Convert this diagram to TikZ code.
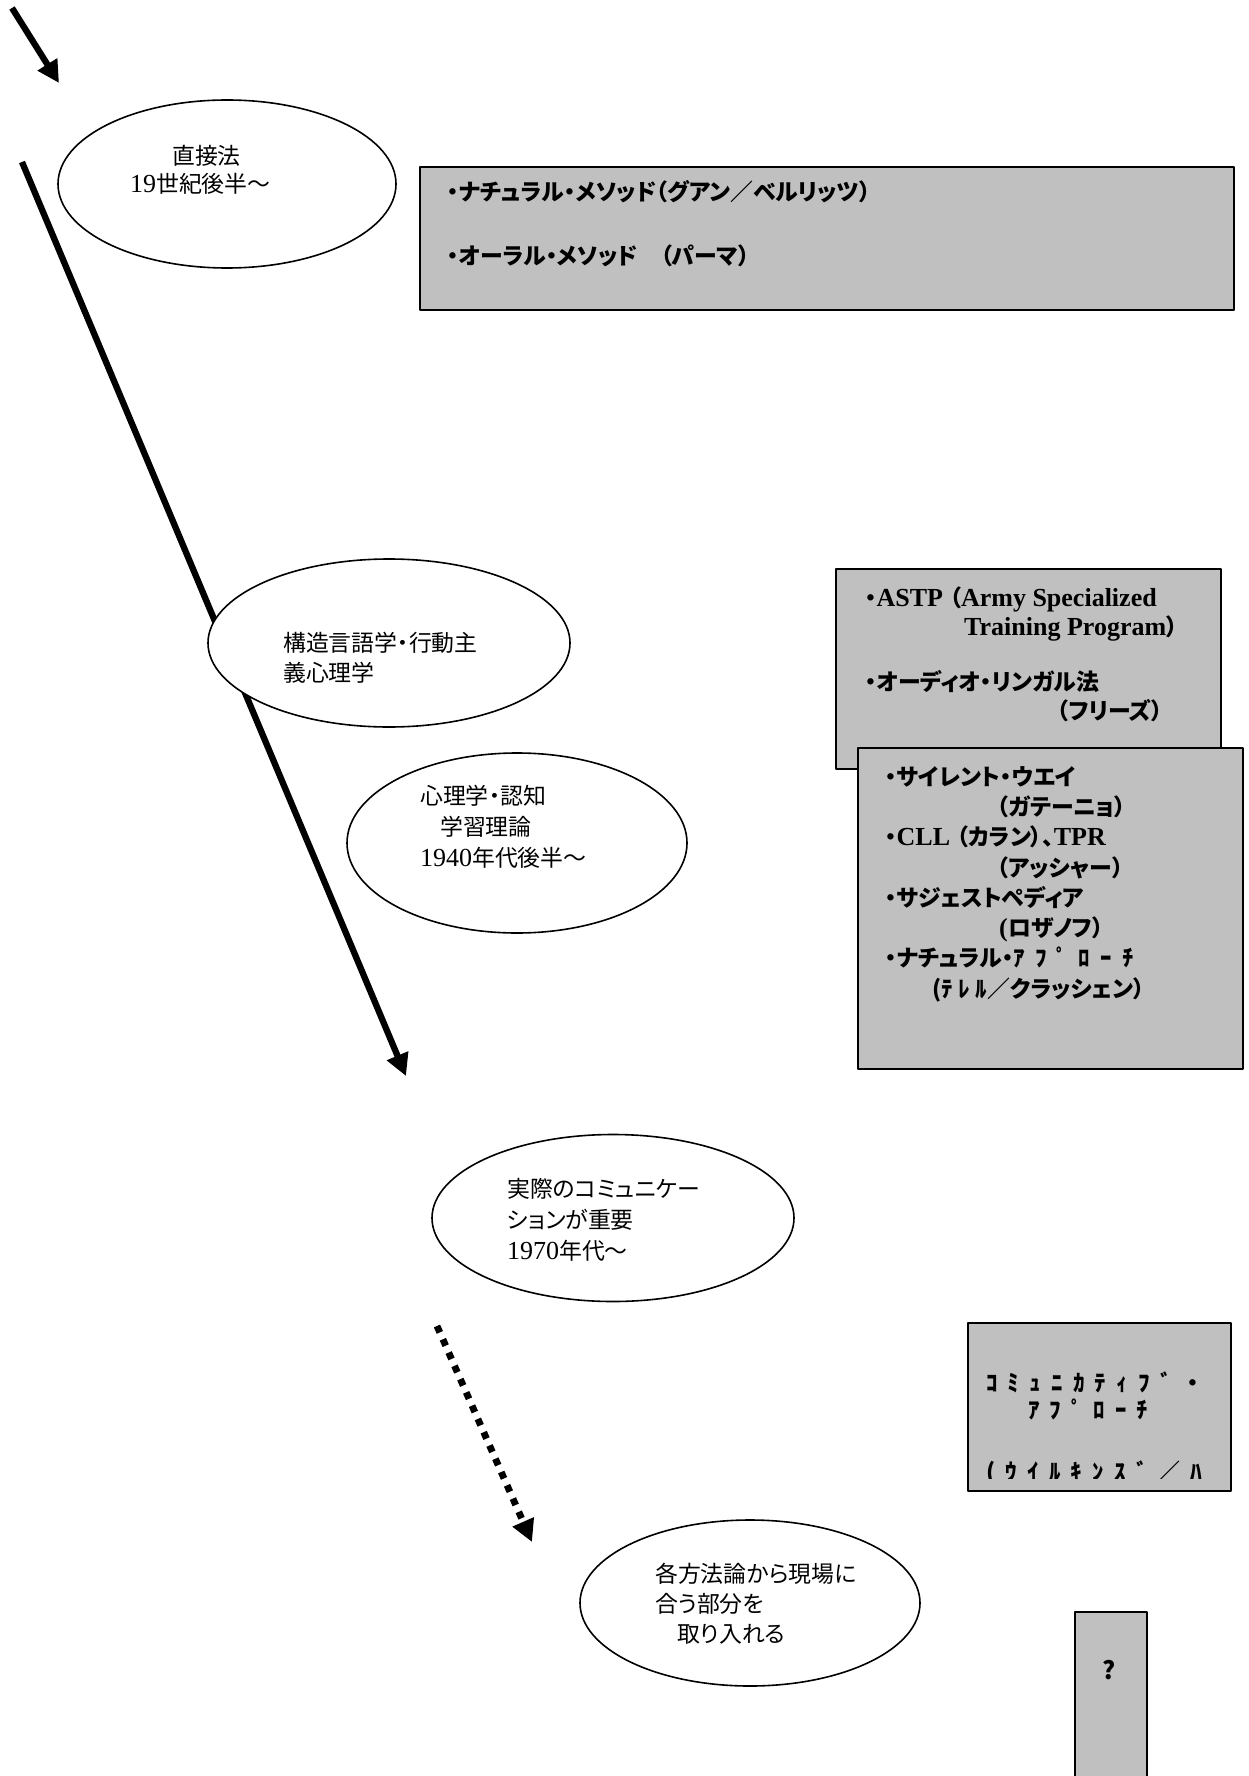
\documentclass[tikz,border=0pt]{standalone}
\usepackage{fontspec}
\setmainfont{Liberation Serif}
\newfontfamily\jp[Scale=0.88,RawFeature={+palt}]{Noto Sans CJK JP}
\newfontfamily\hk[Scale=0.88,LetterSpace=45]{Noto Sans CJK JP}
\newfontfamily\hkn[Scale=0.88,LetterSpace=25]{Noto Sans CJK JP}
\usepackage{tikz}
\usetikzlibrary{shapes}
\usetikzlibrary{arrows.meta}
\definecolor{boxgray}{RGB}{192,192,192}

\begin{document}
\begin{tikzpicture}[x=1pt,y=-1pt,join=round,
  oval/.style={draw,fill=white,ellipse,line width=1.6pt,inner sep=0pt},
  graybox/.style={draw,fill=boxgray,line width=1.8pt,anchor=north west,inner sep=0pt},
  txt/.style={inner sep=0pt,anchor=north west,align=left,font=\fontsize{26}{30}\selectfont},
  btxt/.style={txt,font=\fontsize{26}{30}\selectfont\bfseries},
  bigarrow/.style={line width=6.3pt,-{Triangle[length=22pt,width=22pt]}}]
\useasboundingbox (0,0) rectangle (1248,1776);

% time arrows
\coordinate (s0) at (12,8);
\coordinate (t0) at (59,83);
\draw[bigarrow] (s0) -- (t0);
\coordinate (s1) at (22,162);
\coordinate (t1) at (406,1076);
\draw[bigarrow] (s1) -- (t1);
\coordinate (s2) at (437,1326);
\coordinate (t2) at (532,1542);
\draw[bigarrow,line width=6.8pt,dash pattern=on 7pt off 7.5pt] (s2) -- (t2);

% periods
\node[oval,minimum width=338pt,minimum height=168pt] (direct) at (227,184) {};
\node[oval,minimum width=362pt,minimum height=168pt] (struct) at (389,643) {};
\node[oval,minimum width=340pt,minimum height=180pt] (cogn) at (517,843) {};
\node[oval,minimum width=362pt,minimum height=167pt] (commu) at (613,1218) {};
\node[oval,minimum width=340pt,minimum height=166pt] (eclec) at (750,1603) {};

\node[txt,font=\fontsize{26}{28}\selectfont] (directtxt) at (130,145)
  {\hspace*{42pt}{\jp 直接法}\\19{\jp 世紀後半～}};
\node[txt] (structtxt) at (283,632) {{\jp 構造言語学・行動主}\\{\jp 義心理学}};
\node[txt,font=\fontsize{26}{31}\selectfont] (cogntxt) at (420,785)
  {{\jp 心理学・認知}\\\hspace*{20pt}{\jp 学習理論}\\1940{\jp 年代後半～}};
\node[txt,font=\fontsize{26}{31}\selectfont] (commutxt) at (507,1178)
  {{\jp 実際のコミュニケー}\\{\jp ションが重要}\\1970{\jp 年代～}};
\node[txt] (eclectxt) at (655,1563)
  {{\jp 各方法論から現場に}\\{\jp 合う部分を}\\\hspace*{22pt}{\jp 取り入れる}};

% methods
\node[graybox,minimum width=814pt,minimum height=143pt] (natural) at (419,166) {};
\node[graybox,minimum width=385pt,minimum height=200pt] (audio) at (835,568) {};
\node[graybox,minimum width=385pt,minimum height=321pt] (human) at (857,747) {};
\node[graybox,minimum width=263pt,minimum height=168pt] (commbox) at (967,1322) {};
\node[graybox,minimum width=72pt,minimum height=200pt] (unknown) at (1074,1611) {};

\node[btxt,font=\fontsize{26}{32}\selectfont\bfseries] (naturaltxt) at (447,180)
  {{\jp ・ナチュラル・メソッド（グアン／ベルリッツ）}\\[32pt]{\jp ・オーラル・メソッド　（パーマ）}};
\node[btxt,font=\fontsize{26}{28.5}\selectfont\bfseries] (audiotxt) at (865,587)
  {{\jp ・}ASTP {\jp （}Army Specialized\\\hspace*{99pt}Training Program{\jp ）}\\[27pt]
   {\jp ・オーディオ・リンガル法}\\\hspace*{192pt}{\jp （フリーズ）}};
\node[btxt,font=\fontsize{26}{30.3}\selectfont\bfseries] (humantxt) at (885,766)
  {{\jp ・サイレント・ウエイ}\\\hspace*{112pt}{\jp （ガテーニョ）}\\
   {\jp ・}CLL {\jp （カラン）、}TPR\\\hspace*{112pt}{\jp （アッシャー）}\\
   {\jp ・サジェストペディア}\\\hspace*{114pt}({\jp ロザノフ）}\\
   {\jp ・ナチュラル・}{\hk ｱﾌﾟﾛｰﾁ}\\\hspace*{47pt}{\jp (}{\hkn ﾃﾚﾙ}{\jp ／クラッシェン）}};
\begin{scope}
\clip (967,1322) rectangle (1230,1478);
\node[btxt,font=\fontsize{26}{27}\selectfont\bfseries] (commtxt) at (986,1372)
  {{\hk ｺﾐｭﾆｶﾃｨﾌﾞ・}\\\hspace*{42pt}{\hk ｱﾌﾟﾛｰﾁ}\\[35pt]{\hk (ｳｲﾙｷﾝｽﾞ／ﾊ}};
\end{scope}
\node[inner sep=0pt,font=\fontsize{28}{30}\selectfont\bfseries] (unknowntxt) at (1109,1670) {\jp ?};
\end{tikzpicture}
\end{document}
